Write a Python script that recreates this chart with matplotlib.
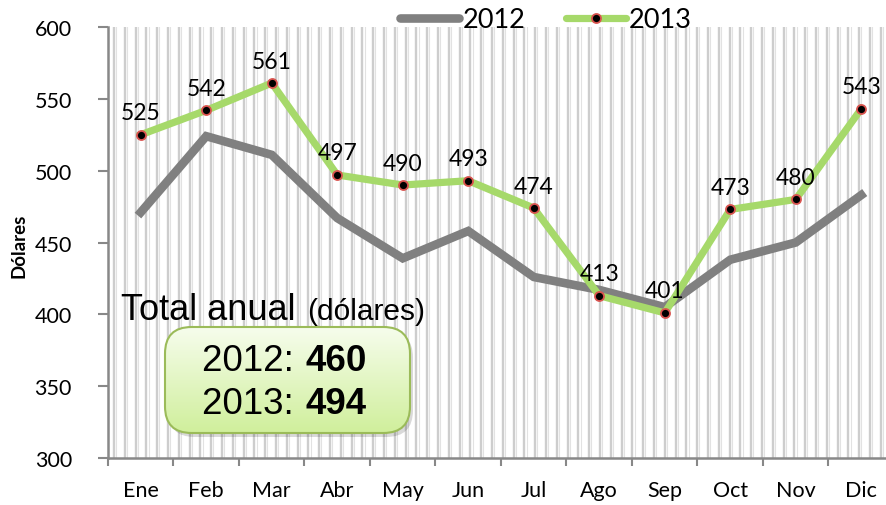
import numpy as np
import matplotlib.pyplot as plt
from matplotlib.patches import FancyBboxPatch
from matplotlib.lines import Line2D
from matplotlib.colors import LinearSegmentedColormap

months = ['Ene', 'Feb', 'Mar', 'Abr', 'May', 'Jun', 'Jul', 'Ago', 'Sep', 'Oct', 'Nov', 'Dic']
v2012 = [471, 524, 511, 467, 439, 458, 426, 417, 405, 438, 450, 483]
v2013 = [525, 542, 561, 497, 490, 493, 474, 413, 401, 473, 480, 543]
yticks = [300, 350, 400, 450, 500, 550, 600]
total_2012 = '460'
total_2013 = '494'

W, H = 887, 506
fig = plt.figure(figsize=(W / 100, H / 100), dpi=100)
# plot area runs past the right edge, like the original
ax = fig.add_axes([108 / W, (H - 459) / H, 786 / W, 431 / H])

font = 'Lato'
arial = 'Liberation Sans'
x = np.arange(len(months))

# vertical stripe pattern of the plot area
for px in np.arange(114, 894, 10.8):
    fx = (px - 108) / 786
    ax.plot([fx, fx], [0, 1], transform=ax.transAxes, color='#cdcdcd', lw=1.7, zorder=0)
    ax.plot([fx + 2.3 / 786] * 2, [0, 1], transform=ax.transAxes, color='#e2e2e2', lw=0.8, zorder=0)

ax.plot(x, v2012, color='#808080', lw=6.2, solid_joinstyle='miter', zorder=3)
ax.plot(x, v2013, color='#a6d96a', lw=5.2, solid_joinstyle='miter', zorder=4,
        marker='o', markersize=6.5, markerfacecolor='black', markeredgecolor='#d9534f', markeredgewidth=1.3)

for xi, v in zip(x, v2013):
    ax.text(xi, v + 8, str(v), ha='center', va='bottom', fontsize=16.5, family=font, zorder=6)

ax.set_xlim(-0.5, 11.5)
ax.set_ylim(300, 600)
ax.set_yticks(yticks)
ax.set_xticks(x)
ax.set_xticklabels(months)
ax.set_xticks(np.arange(-0.5, 12, 1), minor=True)
ax.tick_params(axis='x', which='major', length=0, pad=16, labelsize=15.5)
ax.tick_params(axis='x', which='minor', length=6, width=1.5, color='#888888', direction='out')
ax.tick_params(axis='y', length=7, width=1.5, color='#888888', labelsize=15.5, pad=19)
for lab in ax.get_xticklabels() + ax.get_yticklabels():
    lab.set_family(font)
for s in ['top', 'right']:
    ax.spines[s].set_visible(False)
for s in ['left', 'bottom']:
    ax.spines[s].set_color('#888888')
    ax.spines[s].set_linewidth(1.8)

fig.text(19 / W, 1 - 246 / H, 'Dólares', rotation=90, ha='center', va='center',
         fontsize=13.5, fontweight='bold', family=font)

# legend
h1 = Line2D([], [], color='#808080', lw=6.2, solid_capstyle='round')
h2 = Line2D([], [], color='#a6d96a', lw=5.2, solid_capstyle='round', marker='o', markersize=6.5,
            markerfacecolor='black', markeredgecolor='#d9534f', markeredgewidth=1.3)
fig.legend([h1, h2], ['2012', '2013'], loc='center', bbox_to_anchor=(546 / W, 1 - 21 / H), ncol=2,
           frameon=False, handlelength=2.2, handletextpad=0.12, columnspacing=1.5,
           borderpad=0, prop={'family': font, 'size': 19.5})

# annual totals
fig.text(121 / W, 1 - 320 / H, 'Total anual', fontsize=26, family=arial, va='baseline')
fig.text(307 / W, 1 - 320 / H, '(dólares)', fontsize=21.5, family=arial, va='baseline')

bx, by, bw, bh = 165 / W, 1 - 434 / H, 245 / W, 106 / H
rs = 'round,pad=0,rounding_size=0.03'
shadow = FancyBboxPatch((bx + 3 / W, by - 4 / H), bw, bh, boxstyle=rs,
                        transform=fig.transFigure, facecolor='#000000', alpha=0.15, edgecolor='none',
                        mutation_aspect=W / H, zorder=7)
fig.patches.append(shadow)
box = FancyBboxPatch((bx, by), bw, bh, boxstyle=rs,
                     transform=fig.transFigure, facecolor='none', edgecolor='#9bbb59', lw=1.5,
                     mutation_aspect=W / H, zorder=9)
fig.patches.append(box)
grad = np.linspace(0, 1, 100).reshape(-1, 1)
gax = fig.add_axes([bx, by, bw, bh], zorder=8)
gax.axis('off')
cm = LinearSegmentedColormap.from_list('g', ['#f6fdec', '#d0ef9c'])
im = gax.imshow(grad, aspect='auto', cmap=cm, extent=[0, 1, 0, 1], origin='upper')
clip = FancyBboxPatch((bx, by), bw, bh, boxstyle=rs,
                      transform=fig.transFigure, mutation_aspect=W / H, facecolor='none', edgecolor='none')
im.set_clip_path(clip)

for yy, yr, val in [(362, '2012: ', total_2012), (405, '2013: ', total_2013)]:
    fig.text(304 / W, 1 - yy / H, yr, fontsize=26.5, family=arial, ha='right',
             va='center', zorder=10)
    fig.text(306 / W, 1 - yy / H, val, fontsize=26.5, family=arial, fontweight='bold',
             ha='left', va='center', zorder=10)

fig.savefig('out.png', dpi=100)
